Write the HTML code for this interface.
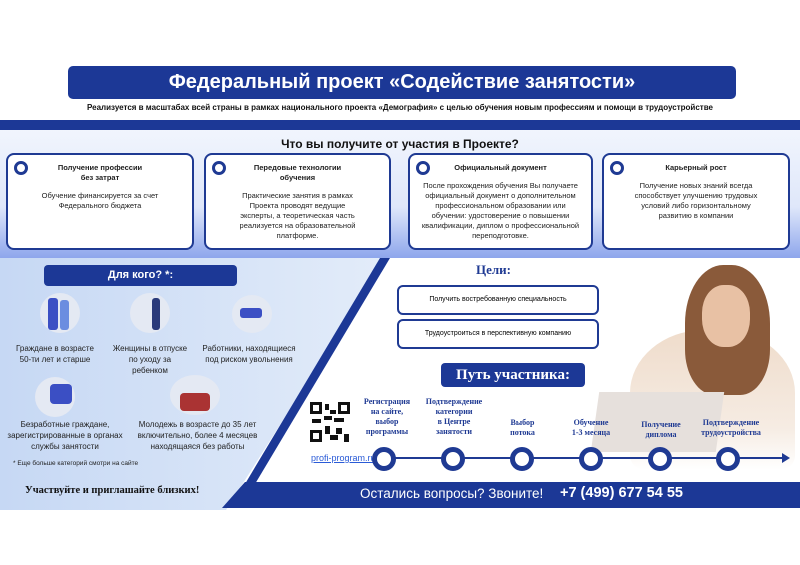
<!DOCTYPE html><html><head><meta charset="utf-8"><style>
*{margin:0;padding:0;box-sizing:border-box}
body{width:800px;height:565px;background:#fff;position:relative;overflow:hidden;font-family:"Liberation Sans",sans-serif}
.a{position:absolute}
.card{position:absolute;top:153px;height:97px;background:#fff;border:2px solid #1f3a93;border-radius:8px;text-align:center;font-size:7.5px;line-height:10px;color:#222}
.card .h{font-weight:bold;margin-top:8px;margin-bottom:8px;padding:0 22px}
.card .ring{position:absolute;left:6px;top:6px;width:14px;height:14px;border:3.5px solid #1f3a93;border-radius:50%}
.t{position:absolute;text-align:center;font-size:8px;line-height:11px;color:#222}
.st{position:absolute;text-align:center;font-family:"Liberation Serif",serif;font-weight:bold;font-size:8px;line-height:10px;color:#1f3a93}
.c{position:absolute;top:447px;width:24px;height:24px;border:5px solid #1f3a93;border-radius:50%;background:#fff}
.ic{position:absolute;border-radius:50%;background:#e4e9f3}
</style></head><body>
<div class="a" style="left:68px;top:66px;width:668px;height:33px;background:#1c3896;border-radius:5px;color:#fff;font-weight:bold;font-size:20px;text-align:center;line-height:33px">Федеральный проект «Содействие занятости»</div>
<div class="a" style="left:0;top:103px;width:800px;text-align:center;font-size:8px;font-weight:bold;color:#111">Реализуется в масштабах всей страны в рамках национального проекта «Демография» с целью обучения новым профессиям и помощи в трудоустройстве</div>
<div class="a" style="left:0;top:120px;width:800px;height:10px;background:#1c3896"></div>
<div class="a" style="left:0;top:130px;width:800px;height:128px;background:linear-gradient(#f1f5fd,#dfe7fa 60%,#8ea6ec)"></div>
<div class="a" style="left:0;top:137px;width:800px;text-align:center;font-size:12px;font-weight:bold;color:#111">Что вы получите от участия в Проекте?</div>
<div class="card" style="left:6px;width:188px"><div class="ring"></div><div class="h">Получение профессии<br>без затрат</div>Обучение финансируется за счет<br>Федерального бюджета</div>
<div class="card" style="left:204px;width:187px"><div class="ring"></div><div class="h">Передовые технологии<br>обучения</div>Практические занятия в рамках<br>Проекта проводят ведущие<br>эксперты, а теоретическая часть<br>реализуется на образовательной<br>платформе.</div>
<div class="card" style="left:408px;width:185px"><div class="ring"></div><div class="h">Официальный документ</div>После прохождения обучения Вы получаете<br>официальный документ о дополнительном<br>профессиональном образовании или<br>обучении: удостоверение о повышении<br>квалификации, диплом о профессиональной<br>переподготовке.</div>
<div class="card" style="left:602px;width:188px"><div class="ring"></div><div class="h">Карьерный рост</div>Получение новых знаний всегда<br>способствует улучшению трудовых<br>условий либо горизонтальному<br>развитию в компании</div>
<div class="a" style="left:0;top:258px;width:800px;height:252px;background:linear-gradient(90deg,#c6d8f4,#eaf1fb 60%,#fff)"></div>
<svg class="a" style="left:0;top:258px" width="800" height="252"><polygon points="386,0 800,0 800,252 226,252" fill="#fff"/><polygon points="380,0 390,0 255,226 245,226" fill="#1c3896"/><polygon points="245,224 800,224 800,250 222,250" fill="#1c3896"/></svg>
<div class="a" style="left:630px;top:330px;width:165px;height:140px;border-radius:45% 45% 10% 10%;background:linear-gradient(#efdccb,#f6ece3 70%,rgba(255,255,255,0))"></div>
<div class="a" style="left:685px;top:265px;width:85px;height:130px;border-radius:45% 45% 35% 35%;background:#8a5a3a"></div>
<div class="a" style="left:702px;top:285px;width:48px;height:62px;border-radius:45%;background:#e8c1a4"></div>
<div class="a" style="left:595px;top:392px;width:125px;height:60px;background:#e6e0dc;transform:skewX(-8deg)"></div>
<div class="a" style="left:44px;top:265px;width:193px;height:21px;background:#1c3896;border-radius:4px;color:#fff;font-weight:bold;font-size:11px;text-align:center;line-height:21px">Для кого? *:</div>
<div class="ic" style="left:40px;top:293px;width:40px;height:40px"></div><div class="a" style="left:48px;top:298px;width:10px;height:32px;background:#3b4fc4;border-radius:3px"></div><div class="a" style="left:60px;top:300px;width:9px;height:30px;background:#6b8de0;border-radius:3px"></div>
<div class="ic" style="left:130px;top:293px;width:40px;height:40px"></div><div class="a" style="left:152px;top:298px;width:8px;height:32px;background:#2a3a7a;border-radius:3px"></div>
<div class="ic" style="left:232px;top:295px;width:40px;height:38px"></div><div class="a" style="left:240px;top:308px;width:22px;height:10px;background:#3b4fc4;border-radius:3px"></div>
<div class="ic" style="left:35px;top:377px;width:40px;height:40px"></div><div class="a" style="left:50px;top:384px;width:22px;height:20px;background:#3b4fc4;border-radius:4px"></div>
<div class="ic" style="left:170px;top:375px;width:50px;height:40px"></div><div class="a" style="left:180px;top:393px;width:30px;height:18px;background:#a33;border-radius:4px"></div>
<div class="t" style="left:10px;top:343px;width:90px">Граждане в возрасте<br>50-ти лет и старше</div>
<div class="t" style="left:105px;top:343px;width:90px">Женщины в отпуске<br>по уходу за<br>ребенком</div>
<div class="t" style="left:195px;top:343px;width:108px">Работники, находящиеся<br>под риском увольнения</div>
<div class="t" style="left:0;top:419px;width:130px">Безработные граждане,<br>зарегистрированные в органах<br>службы занятости</div>
<div class="t" style="left:130px;top:419px;width:135px">Молодежь в возрасте до 35 лет<br>включительно, более 4 месяцев<br>находящаяся без работы</div>
<div class="a" style="left:13px;top:460px;font-size:6.5px;color:#222">* Еще больше категорий смотри на сайте</div>
<div class="a" style="left:25px;top:485px;font-family:'Liberation Serif',serif;font-weight:bold;font-size:10.5px;color:#111">Участвуйте и приглашайте близких!</div>
<div class="a" style="left:476px;top:262px;font-family:'Liberation Serif',serif;font-weight:bold;font-size:13px;color:#1f3a93">Цели:</div>
<div class="a" style="left:397px;top:285px;width:202px;height:30px;border:2px solid #1f3a93;border-radius:6px;background:#fff;font-size:7px;line-height:26px;text-align:center">Получить востребованную специальность</div>
<div class="a" style="left:397px;top:319px;width:202px;height:30px;border:2px solid #1f3a93;border-radius:6px;background:#fff;font-size:7px;line-height:26px;text-align:center">Трудоустроиться в перспективную компанию</div>
<div class="a" style="left:441px;top:363px;width:144px;height:24px;background:#1c3896;border-radius:4px;color:#fff;font-family:'Liberation Serif',serif;font-weight:bold;font-size:15px;text-align:center;line-height:24px">Путь участника:</div>
<svg class="a" style="left:310px;top:402px" width="40" height="40"><rect width="40" height="40" fill="#fff"/><g fill="#111"><rect x="0" y="0" width="12" height="12"/><rect x="28" y="0" width="12" height="12"/><rect x="0" y="28" width="12" height="12"/><rect x="15" y="2" width="4" height="6"/><rect x="20" y="8" width="6" height="4"/><rect x="14" y="14" width="8" height="4"/><rect x="2" y="17" width="9" height="4"/><rect x="24" y="16" width="10" height="4"/><rect x="15" y="24" width="5" height="8"/><rect x="26" y="26" width="6" height="6"/><rect x="20" y="33" width="8" height="5"/><rect x="34" y="32" width="5" height="8"/></g><g fill="#fff"><rect x="3" y="3" width="6" height="6"/><rect x="31" y="3" width="6" height="6"/><rect x="3" y="31" width="6" height="6"/></g></svg>
<div class="a" style="left:311px;top:453px;font-size:9px;color:#2a5bd7;text-decoration:underline">profi-program.ru</div>
<div class="st" style="left:358px;top:397px;width:58px">Регистрация<br>на сайте,<br>выбор<br>программы</div>
<div class="st" style="left:420px;top:397px;width:68px">Подтверждение<br>категории<br>в Центре<br>занятости</div>
<div class="st" style="left:495px;top:418px;width:55px">Выбор<br>потока</div>
<div class="st" style="left:562px;top:418px;width:58px">Обучение<br>1-3 месяца</div>
<div class="st" style="left:632px;top:420px;width:58px">Получение<br>диплома</div>
<div class="st" style="left:690px;top:418px;width:82px">Подтверждение<br>трудоустройства</div>
<div class="a" style="left:390px;top:457px;width:393px;height:2px;background:#1f3a93"></div>
<div class="a" style="left:782px;top:453px;width:0;height:0;border-left:8px solid #1f3a93;border-top:5px solid transparent;border-bottom:5px solid transparent"></div>
<div class="c" style="left:372px"></div><div class="c" style="left:441px"></div><div class="c" style="left:510px"></div><div class="c" style="left:579px"></div><div class="c" style="left:648px"></div><div class="c" style="left:716px"></div>
<div class="a" style="left:360px;top:486px;color:#fff;font-size:13.5px">Остались вопросы? Звоните!</div>
<div class="a" style="left:560px;top:485px;color:#fff;font-size:14.5px;font-weight:bold">+7 (499) 677 54 55</div>
</body></html>
